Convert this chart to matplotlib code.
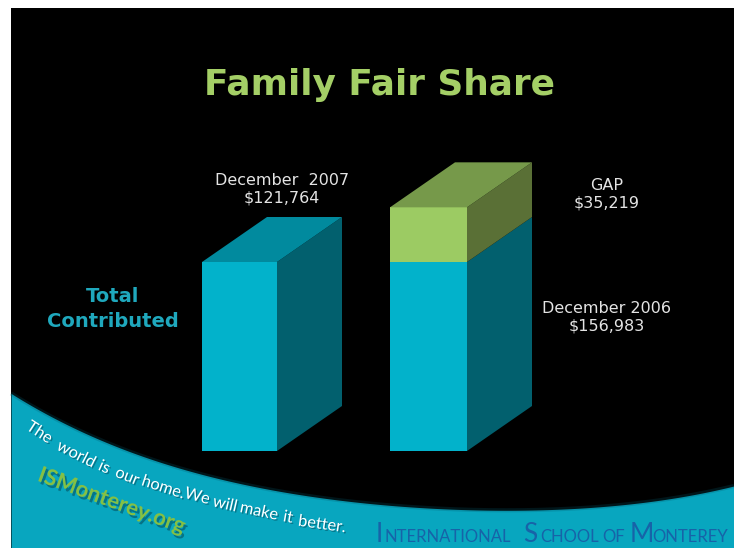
import numpy as np
import matplotlib
matplotlib.use("Agg")
import matplotlib.pyplot as plt
import matplotlib.patheffects as pe
from matplotlib.patches import Polygon, Rectangle

W, H = 734, 548

# values
contributed = 121764
gap = 35219
total = 156983
bar_left = [202, 390]
bar_width = [75, 77]

# banner edge
edge_x = [11, 50, 100, 150, 200, 267, 333, 380, 440, 493, 560, 627, 680, 734]
edge_y = [393, 415, 442, 460, 473, 487, 498, 505, 510, 512, 509, 503, 496, 487]

# words of the slogan along the curve: word, x, y, angle
slogan_words = ["The", "world", "is", "our", "home.", "We", "will", "make", "it", "better."]
slogan_x = [39, 76, 104, 127, 163, 197, 225, 259, 288, 322]
slogan_y = [433, 455, 468, 477, 488, 497, 505, 512, 518, 525]
slogan_rot = [-33, -27, -24, -22, -18, -15, -13, -12, -10, -8]

teal_front = "#02b2cb"
teal_side = "#02606e"
teal_top = "#018a9e"
green_front = "#9ccb63"
green_side = "#5a7036"
green_top = "#76994a"
banner = "#08a6bf"
school_blue = "#1763a8"
label_col = "#e4e4e4"

fig = plt.figure(figsize=(W / 100, H / 100), dpi=100, facecolor="white")

# pixel axes for slide background and text
ax = fig.add_axes([0, 0, 1, 1])
ax.set_xlim(0, W)
ax.set_ylim(H, 0)
ax.axis("off")

ax.add_patch(Rectangle((11, 8), W - 11, H - 8, facecolor="black", edgecolor="none"))

xs = np.linspace(11, W, 300)
ys = np.polyval(np.polyfit(edge_x, edge_y, 4), xs)
ax.fill_between(xs, ys, H, color=banner, lw=0)
ax.plot(xs, ys, color="#04586a", lw=3, alpha=0.25, solid_capstyle="butt")

ax.text(380, 85, "Family Fair Share", color="#a4cf66", fontsize=25.8, fontweight="bold",
        ha="center", va="center")

ax.text(282, 189, "December  2007\n$121,764", color=label_col, fontsize=11.5, ha="center",
        va="center", linespacing=1.2)
ax.text(607, 194, "GAP\n$35,219", color=label_col, fontsize=11.5, ha="center", va="center",
        linespacing=1.2)
ax.text(607, 317, "December 2006\n$156,983", color=label_col, fontsize=11.5, ha="center",
        va="center", linespacing=1.2)
ax.text(113, 309, "Total\nContributed", color="#1fa8bd", fontsize=14, fontweight="bold",
        ha="center", va="center", linespacing=1.35)

shadow = [pe.withSimplePatchShadow(offset=(1, -1), shadow_rgbFace="#045566", alpha=0.6)]
for word, x, y, rot in zip(slogan_words, slogan_x, slogan_y, slogan_rot):
    ax.text(x, y, word, color="white", fontsize=11.8, family="Lato", ha="center",
            va="center", rotation=rot, rotation_mode="anchor", path_effects=shadow)

ax.text(112, 501, "ISMonterey.org", color="#84c044", fontsize=16, fontweight="bold",
        family="Lato", ha="center", va="center", rotation=-20, rotation_mode="anchor",
        path_effects=[pe.withSimplePatchShadow(offset=(1.5, -2), shadow_rgbFace="#034a58", alpha=0.55)])

# school name: big initials, small capitals
school = [("I", 376, 19), ("NTERNATIONAL", 384, 12), ("S", 523, 19), ("CHOOL", 540, 12),
          ("OF", 602, 12), ("M", 630, 19), ("ONTEREY", 652, 12)]
for piece, x, size in school:
    ax.text(x, 542, piece, color=school_blue, fontsize=size, family="Lato",
            ha="left", va="baseline")

# bar axes: y is in dollars, baseline at pixel 451
scale = 189 / contributed
bx = fig.add_axes([0, 0, 1, 1])
bx.patch.set_alpha(0)
bx.set_xlim(0, W)
bx.set_ylim(-(H - 451) / scale, 451 / scale)
bx.axis("off")

dx = 65
dy = 45 / scale


def box(left, width, bottom, top, front, side, top_col=None):
    right = left + width
    bx.bar(left, top - bottom, width, bottom=bottom, align="edge", color=front, lw=0)
    bx.add_patch(Polygon([(right, bottom), (right + dx, bottom + dy), (right + dx, top + dy), (right, top)],
                         facecolor=side, edgecolor="none"))
    if top_col:
        bx.add_patch(Polygon([(left, top), (left + dx, top + dy), (right + dx, top + dy), (right, top)],
                             facecolor=top_col, edgecolor="none"))


box(bar_left[0], bar_width[0], 0, contributed, teal_front, teal_side, teal_top)
box(bar_left[1], bar_width[1], 0, contributed, teal_front, teal_side)
box(bar_left[1], bar_width[1], contributed, total, green_front, green_side, green_top)

fig.savefig("out.png", dpi=100, facecolor="white")
